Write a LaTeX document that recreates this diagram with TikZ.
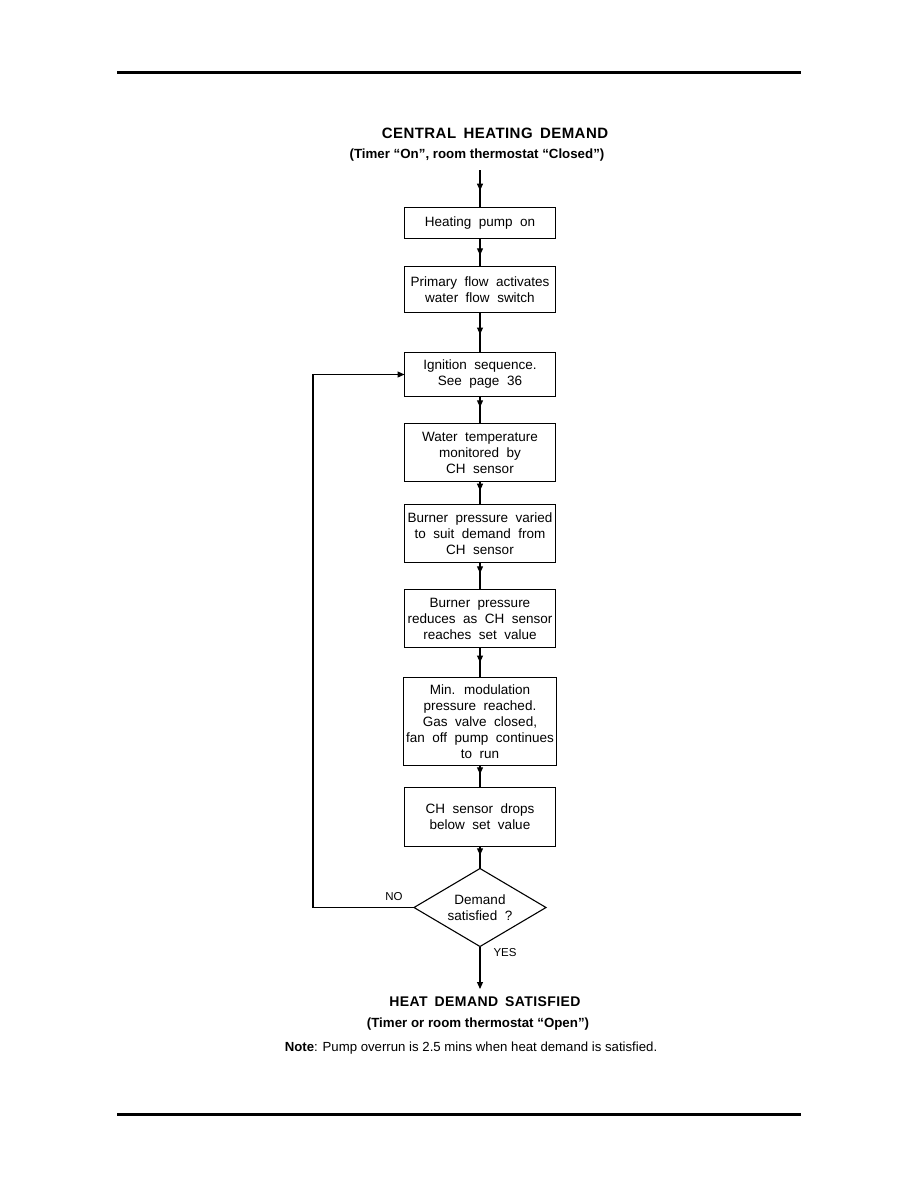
\documentclass[tikz,border=0pt]{standalone}
\usepackage{fontspec}
\setmainfont{Liberation Sans}
\newfontfamily\boxfont{Liberation Sans}[WordSpace=2]
\newfontfamily\headfont{Liberation Sans}[LetterSpace=3,WordSpace=1.6]
\usetikzlibrary{shapes.geometric, arrows.meta, positioning, decorations.markings}

\begin{document}
\begin{tikzpicture}[
    x=1pt, y=-1pt,
    node distance=27pt,
    process/.style={rectangle, draw, line width=1.1pt, outer sep=0pt, minimum width=151pt, inner sep=3pt, align=center, font=\boxfont\fontsize{13.5}{16}\selectfont},
    decision/.style={diamond, draw, line width=1.1pt, outer sep=0pt, aspect=1.7, minimum width=132pt, minimum height=78pt, inner sep=0pt, align=center, font=\boxfont\fontsize{13.5}{16}\selectfont},
    heading/.style={font=\headfont\bfseries\fontsize{15}{18}\selectfont},
    subheading/.style={font=\bfseries\fontsize{13.3}{16}\selectfont},
    answer/.style={font=\fontsize{11.5}{13}\selectfont},
    flow/.style={draw, line width=1.1pt, postaction={decorate}, decoration={markings, mark=at position #1 with {\arrow{Triangle[length=7pt,width=6pt]}}}},
    flow/.default=0.55,
    arrow/.style={draw, line width=1.1pt, -{Triangle[length=7pt,width=6pt]}},
    rule/.style={line width=3.5pt}
]
\useasboundingbox (0,0) rectangle (918,1188);

% Page rules
\draw[rule] (117,72.5) -- (801,72.5);
\draw[rule] (117,1114.5) -- (801,1114.5);

% Heading
\node[heading] (chdemand) at (495,133) {CENTRAL HEATING DEMAND};
\node[subheading] (chsub) at (477,155) {(Timer “On”, room thermostat “Closed”)};
\coordinate (start) at (480,170);

% Process boxes
\node[process, minimum height=31pt] (pumpon) at (480,223) {Heating pump on};
\node[process, minimum height=46pt, below=28pt of pumpon] (primflow) {Primary flow activates\\water flow switch};
\node[process, minimum height=44pt, below=40pt of primflow] (ignition) {Ignition sequence.\\See page 36};
\node[process, minimum height=58pt, below=27pt of ignition] (watertemp) {Water temperature\\monitored by\\CH sensor};
\node[process, minimum height=58pt, below=23pt of watertemp] (burnervar) {Burner pressure varied\\to suit demand from\\CH sensor};
\node[process, minimum height=58pt, below=27pt of burnervar] (burnerred) {Burner pressure\\reduces as CH sensor\\reaches set value};
\node[process, minimum height=88pt, below=30pt of burnerred] (minmod) {Min. modulation\\pressure reached.\\Gas valve closed,\\fan off pump continues\\to run};
\node[process, minimum height=59pt, below=22pt of minmod] (sensordrop) {CH sensor drops\\below set value};
\node[decision, below=22pt of sensordrop] (satisfied) {Demand\\satisfied ?};
\coordinate (finish) at (480,989);

% Connectors
\draw[flow] (start) -- (pumpon);
\draw[flow=0.6] (pumpon) -- (primflow);
\draw[flow] (primflow) -- (ignition);
\draw[flow=0.4] (ignition) -- (watertemp);
\draw[flow=0.4] (watertemp) -- (burnervar);
\draw[flow=0.4] (burnervar) -- (burnerred);
\draw[flow=0.5] (burnerred) -- (minmod);
\draw[flow=0.4] (minmod) -- (sensordrop);
\draw[flow=0.4] (sensordrop) -- (satisfied);
\draw[arrow] (satisfied.west) -- ++(-101,0) |- (ignition.west);
\draw[arrow] (satisfied.south) -- (finish);

% Answers
\node[answer] (no) at (394,897) {NO};
\node[answer] (yes) at (505,953) {YES};

% Closing text
\node[heading, font=\headfont\bfseries\fontsize{14}{17}\selectfont] (hdsat) at (485,1002) {HEAT DEMAND SATISFIED};
\node[subheading] (hdsub) at (478,1024) {(Timer or room thermostat “Open”)};
\node[font=\fontsize{13.2}{15}\selectfont] (note) at (471,1048) {\textbf{Note}: Pump overrun is 2.5 mins when heat demand is satisfied.};

\end{tikzpicture}
\end{document}
